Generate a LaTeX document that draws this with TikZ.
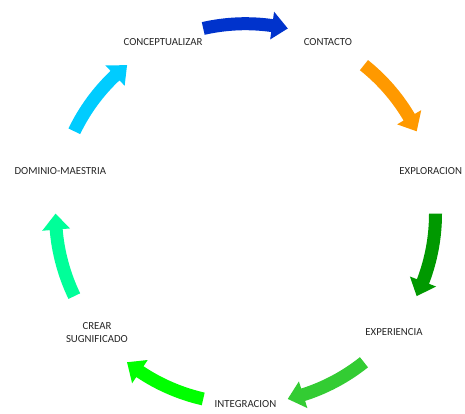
\documentclass[tikz,border=0pt]{standalone}
\usepackage{fontspec}
\setmainfont{Carlito}
\definecolor{cBlue}{RGB}{0,51,204}
\definecolor{cOrange}{RGB}{255,153,0}
\definecolor{cDkGreen}{RGB}{0,153,0}
\definecolor{cLtGreen}{RGB}{51,204,51}
\definecolor{cBrGreen}{RGB}{0,255,0}
\definecolor{cAqua}{RGB}{0,255,153}
\definecolor{cCyan}{RGB}{0,204,255}
\def\Rm{190}
\def\Ro{196.5}
\def\Ri{183.5}
\def\Ho{204}
\def\Hi{176}
\newcommand\cyc[3]{% colour, start angle, end angle (clockwise)
  \pgfmathsetmacro\hb{#3+4.8}%
  \fill[#1] (#2:\Ro) arc[start angle=#2, end angle=\hb, radius=\Ro]
    -- (\hb:\Ho) -- (#3:\Rm) -- (\hb:\Hi) -- (\hb:\Ri)
    arc[start angle=\hb, end angle=#2, radius=\Ri] -- cycle;}
\begin{document}
\begin{tikzpicture}[x=1pt,y=1pt,
  lbl/.style={font=\fontsize{10.8}{13}\selectfont, text=black!85, align=center, inner sep=0pt}]
\useasboundingbox (0,0) rectangle (465,-413);
\coordinate (c) at (245.5,-213.7);
\begin{scope}[shift={(c)}]
  \node[lbl] (n1) at (64.29:\Rm) {CONTACTO};
  \node[lbl] (n2) at (12.86:\Rm) {EXPLORACION};
  \node[lbl] (n3) at (-38.57:\Rm) {EXPERIENCIA};
  \node[lbl] (n4) at (-90:\Rm) {INTEGRACION};
  \node[lbl] (n5) at (-141.43:\Rm) {CREAR\\SUGNIFICADO};
  \node[lbl] (n6) at (167.14:\Rm) {DOMINIO-MAESTRIA};
  \node[lbl] (n7) at (115.71:\Rm) {CONCEPTUALIZAR};
  \cyc{cBlue}{102.86}{77.14}
  \cyc{cOrange}{51.43}{25.71}
  \cyc{cDkGreen}{0}{-25.71}
  \cyc{cLtGreen}{-51.43}{-77.14}
  \cyc{cBrGreen}{-102.86}{-128.57}
  \cyc{cAqua}{-154.29}{-180}
  \cyc{cCyan}{154.29}{128.57}
\end{scope}
\end{tikzpicture}
\end{document}
